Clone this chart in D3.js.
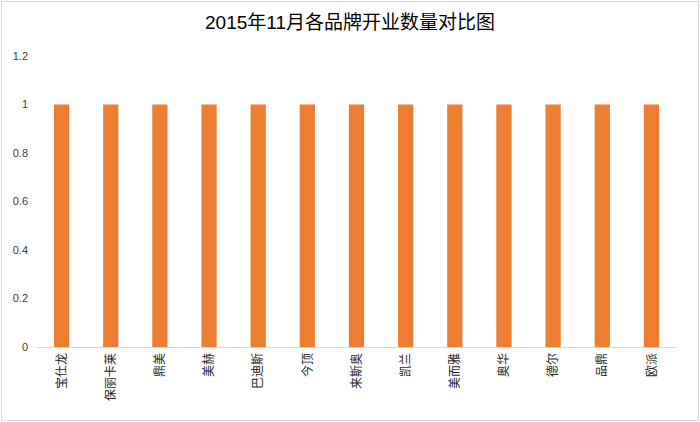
<!DOCTYPE html>
<html>
<head>
<meta charset="utf-8">
<script src="https://cdn.jsdelivr.net/npm/d3@7"></script>
<style>
  body { margin: 0; background: #fff; }
  text { font-family: "Liberation Sans", "Noto Sans CJK SC", sans-serif; }
</style>
</head>
<body>
<div id="chart"></div>
<script>
// brand names and store-opening counts, Nov 2015
const brands = ["宝仕龙", "保丽卡莱", "鼎美", "美赫", "巴迪斯", "今顶", "来斯奥", "凯兰", "美而雅", "奥华", "德尔", "品鼎", "欧派"];
const counts = [1, 1, 1, 1, 1, 1, 1, 1, 1, 1, 1, 1, 1];
const yTicks = [0, 0.2, 0.4, 0.6, 0.8, 1, 1.2];

const width = 700, height = 422;
const margin = { top: 56, right: 24, bottom: 75, left: 37 };

const svg = d3.select("#chart").append("svg")
    .attr("width", width)
    .attr("height", height);

// outer frame
svg.append("rect")
    .attr("x", 1.5).attr("y", 1.5)
    .attr("width", width - 3).attr("height", height - 3)
    .attr("fill", "#fff")
    .attr("stroke", "#d9d9d9");

svg.append("text")
    .attr("x", width / 2).attr("y", 29)
    .attr("text-anchor", "middle")
    .style("font-size", "19px")
    .style("fill", "#000")
    .text("2015年11月各品牌开业数量对比图");

const x = d3.scaleBand()
    .domain(brands)
    .range([margin.left, width - margin.right])
    .paddingInner(0.69)
    .paddingOuter(0.345);

const y = d3.scaleLinear()
    .domain([0, 1.2])
    .range([height - margin.bottom, margin.top]);

// y tick labels
svg.append("g")
    .selectAll("text")
    .data(yTicks)
    .enter().append("text")
    .attr("x", 28)
    .attr("y", d => y(d))
    .attr("dy", "0.35em")
    .attr("text-anchor", "end")
    .style("font-size", "11px")
    .style("fill", "#404040")
    .text(d => d3.format("~g")(d));

// bars
svg.append("g")
    .selectAll("rect")
    .data(counts)
    .enter().append("rect")
    .attr("x", (d, i) => x(brands[i]))
    .attr("y", d => y(d))
    .attr("width", x.bandwidth())
    .attr("height", d => y(0) - y(d))
    .attr("fill", "#ED7D31");

// baseline
svg.append("line")
    .attr("x1", margin.left).attr("x2", width - margin.right)
    .attr("y1", y(0) + 0.5).attr("y2", y(0) + 0.5)
    .attr("stroke", "#d9d9d9");

// category labels, rotated
svg.append("g")
    .selectAll("text")
    .data(brands)
    .enter().append("text")
    .attr("transform", d => `translate(${x(d) + x.bandwidth() / 2},${y(0) + 6}) rotate(-90)`)
    .attr("dy", "0.35em")
    .attr("text-anchor", "end")
    .style("font-size", "12px")
    .style("fill", "#262626")
    .text(d => d);
</script>
</body>
</html>
